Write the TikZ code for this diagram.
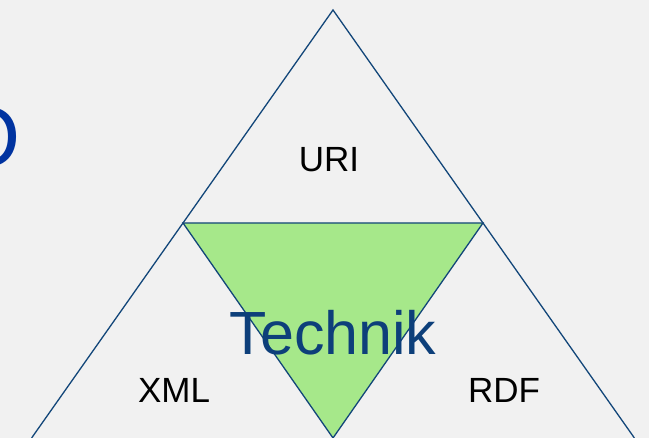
\documentclass[tikz,border=0pt]{standalone}
\usepackage{fontspec}
\setmainfont{Liberation Sans}
\definecolor{bg}{HTML}{F1F1F1}
\definecolor{edge}{HTML}{124679}
\definecolor{leaf}{HTML}{A6E88A}
\definecolor{titleblue}{HTML}{0033A0}
\definecolor{technik}{HTML}{0D3F7A}
\begin{document}
\begin{tikzpicture}[x=1pt,y=1pt,
  tri/.style={draw=edge,line width=1.3pt,line join=miter},
  lbl/.style={font=\fontsize{35}{35}\selectfont,text=black,inner sep=0pt}]
\useasboundingbox (0,0) rectangle (649,438);
\fill[bg] (0,0) rectangle (649,438);
\begin{scope}
\clip (0,0) rectangle (649,438);
\node[anchor=base east,inner sep=0pt,text=titleblue,font=\fontsize{85}{85}\selectfont] (title) at (21,271) {O};
\end{scope}
\coordinate (apex) at (333,428);
\coordinate (bl) at (31.6,0);
\coordinate (br) at (634.4,0);
\coordinate (ml) at (183,215);
\coordinate (mr) at (483,215);
\coordinate (mb) at (333,0);
\draw[tri] (bl) -- (apex) -- (br);
\filldraw[tri,fill=leaf] (ml) -- (mr) -- (mb) -- cycle;
\node[lbl] (uri) at (329,278) {URI};
\node[lbl] (xml) at (174,48) {XML};
\node[lbl] (rdf) at (504,48) {RDF};
\node[inner sep=0pt,anchor=base,text=technik,font=\fontsize{61}{61}\selectfont] (tech) at (333,83) {Technik};
\end{tikzpicture}
\end{document}
